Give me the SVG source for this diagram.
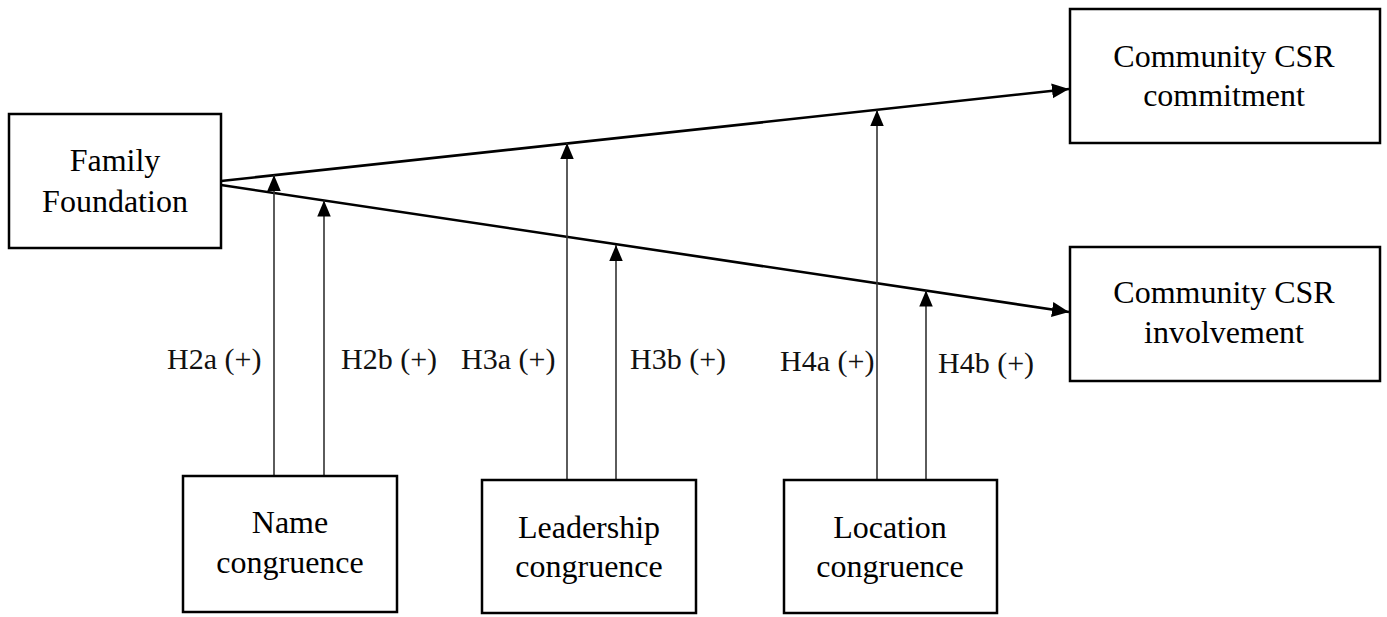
<svg xmlns="http://www.w3.org/2000/svg" width="1387" height="617" viewBox="0 0 1387 617">
<style>
.box{fill:#fff;stroke:#000;stroke-width:2.5}
.t{font-family:"Liberation Serif","Times New Roman",serif;font-size:32px;fill:#000;text-anchor:middle}
.lbl{font-family:"Liberation Serif","Times New Roman",serif;font-size:30px;fill:#111}
.main{stroke:#000;stroke-width:2.6;fill:none}
.mod{stroke:#333;stroke-width:1.6;fill:none}
</style>
<defs>
<marker id="ah" markerUnits="userSpaceOnUse" markerWidth="18" markerHeight="16" refX="17" refY="7.5" orient="auto">
<path d="M0,0 L17,7.5 L0,15 z" fill="#000"/>
</marker>
<marker id="ah2" markerUnits="userSpaceOnUse" markerWidth="17" markerHeight="15" refX="16" refY="6.75" orient="auto">
<path d="M0,0 L16,6.75 L0,13.5 z" fill="#000"/>
</marker>
</defs>
<rect width="1387" height="617" fill="#fff"/>
<g id="connectors">
<line class="main" x1="221" y1="181" x2="1069" y2="89" marker-end="url(#ah)"/>
<line class="main" x1="221" y1="185" x2="1069" y2="312" marker-end="url(#ah)"/>
<line class="mod" x1="274" y1="476" x2="274" y2="175" marker-end="url(#ah2)"/>
<line class="mod" x1="324" y1="476" x2="324" y2="200.5" marker-end="url(#ah2)"/>
<line class="mod" x1="567" y1="480" x2="567" y2="143" marker-end="url(#ah2)"/>
<line class="mod" x1="616" y1="480" x2="616" y2="245" marker-end="url(#ah2)"/>
<line class="mod" x1="877" y1="480" x2="877" y2="110" marker-end="url(#ah2)"/>
<line class="mod" x1="926" y1="480" x2="926" y2="290.5" marker-end="url(#ah2)"/>
</g>
<g id="labels">
<text class="lbl" x="167" y="369">H2a (+)</text>
<text class="lbl" x="341" y="369">H2b (+)</text>
<text class="lbl" x="461" y="369">H3a (+)</text>
<text class="lbl" x="630" y="369">H3b (+)</text>
<text class="lbl" x="780" y="371">H4a (+)</text>
<text class="lbl" x="938" y="373">H4b (+)</text>
</g>
<g id="family-foundation">
<rect class="box" x="9" y="114" width="212" height="134"/>
<text class="t" x="115" y="171">Family</text>
<text class="t" x="115" y="212">Foundation</text>
</g>
<g id="csr-commitment">
<rect class="box" x="1070" y="9" width="310" height="134"/>
<text class="t" x="1224" y="67">Community CSR</text>
<text class="t" x="1224" y="106">commitment</text>
</g>
<g id="csr-involvement">
<rect class="box" x="1070" y="247" width="310" height="134"/>
<text class="t" x="1224" y="303">Community CSR</text>
<text class="t" x="1224" y="343">involvement</text>
</g>
<g id="name-congruence">
<rect class="box" x="183" y="476" width="214" height="136"/>
<text class="t" x="290" y="533">Name</text>
<text class="t" x="290" y="573">congruence</text>
</g>
<g id="leadership-congruence">
<rect class="box" x="482" y="480" width="214" height="133"/>
<text class="t" x="589" y="538">Leadership</text>
<text class="t" x="589" y="577">congruence</text>
</g>
<g id="location-congruence">
<rect class="box" x="784" y="480" width="213" height="133"/>
<text class="t" x="890" y="538">Location</text>
<text class="t" x="890" y="577">congruence</text>
</g>
</svg>
